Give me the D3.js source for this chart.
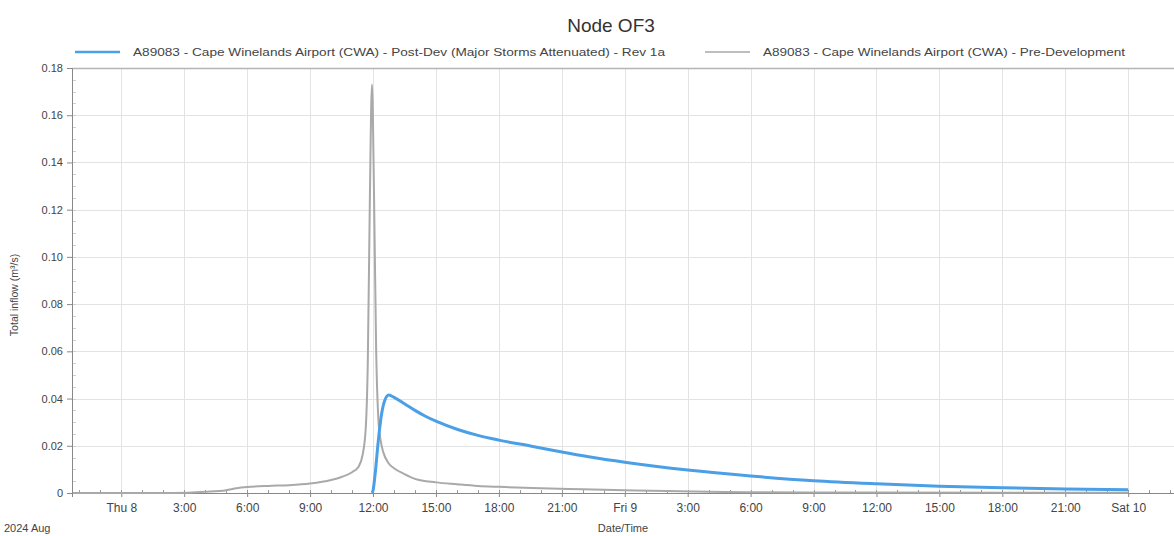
<!DOCTYPE html>
<html>
<head>
<meta charset="utf-8">
<script src="https://cdn.jsdelivr.net/npm/d3@7"></script>
<style>
  body { margin: 0; background: #fff; }
  text { font-family: "Liberation Sans", Arial, sans-serif; fill: #444; }
</style>
</head>
<body>
<div class="chart"></div>
<script>
// hours are counted from Thu 8 Aug 2024 00:00
var preHours = [-2.3, 2.5, 4, 5, 5.5, 6, 7, 8, 9, 10, 10.5, 11, 11.3, 11.5, 11.65, 11.75, 11.85, 11.95, 12.05, 12.15, 12.25, 12.35, 12.5, 12.75, 13, 13.5, 14, 15, 16, 17, 18, 20, 22, 24, 26, 28, 30, 36, 48];
var preValues = [0, 0, 0.0005, 0.0012, 0.002, 0.0025, 0.003, 0.0033, 0.004, 0.0055, 0.0068, 0.0088, 0.011, 0.016, 0.027, 0.055, 0.125, 0.173, 0.125, 0.06, 0.032, 0.023, 0.017, 0.0125, 0.0105, 0.008, 0.006, 0.0045, 0.0037, 0.003, 0.0026, 0.002, 0.0016, 0.0012, 0.0008, 0.0005, 0.0003, 0.0002, 0.0001];

var postHours = [11.95, 12.0, 12.1, 12.25, 12.4, 12.55, 12.75, 13, 13.5, 14, 14.5, 15, 16, 17, 18, 19.5, 21, 22.5, 24, 27, 30, 33, 36, 39, 42, 45, 48];
var postValues = [0, 0.001, 0.008, 0.022, 0.033, 0.039, 0.0415, 0.0405, 0.0378, 0.035, 0.0325, 0.0304, 0.027, 0.0244, 0.0224, 0.0199, 0.0174, 0.015, 0.013, 0.0097, 0.0072, 0.0052, 0.0039, 0.0029, 0.0022, 0.0017, 0.0014];

var yTicks = [0, 0.02, 0.04, 0.06, 0.08, 0.10, 0.12, 0.14, 0.16, 0.18];
var yTickLabels = ["0", "0.02", "0.04", "0.06", "0.08", "0.10", "0.12", "0.14", "0.16", "0.18"];

var seriesNames = [
  "A89083 - Cape Winelands Airport (CWA) - Post-Dev (Major Storms Attenuated) - Rev 1a",
  "A89083 - Cape Winelands Airport (CWA) - Pre-Development"
];
var seriesColors = ["#4b9fe6", "#a9a9a9"];

var dayNames = ["Sun", "Mon", "Tue", "Wed", "Thu", "Fri", "Sat"];

function makeChart(){
  var width = 1174,
      height = 536;

  var left = 72, right = 1174, top = 68, bottom = 493;

  var svg = d3.select(".chart").append("svg")
      .attr("width", width)
      .attr("height", height);

  var base = new Date(2024, 7, 8, 0, 0);
  function toDate(h){ return new Date(base.getTime() + h * 3600000); }

  var x = d3.scaleTime()
      .domain([new Date(2024, 7, 7, 21, 39), new Date(2024, 7, 10, 2, 11)])
      .range([left, right]);

  var y = d3.scaleLinear()
      .domain([0, 0.18])
      .range([bottom, top]);

  var majorTimes = d3.timeHour.every(3).range(toDate(0), toDate(48.1));
  var minorTimes = d3.timeHour.every(1).range(x.domain()[0], x.domain()[1]);

  // grid
  svg.append("g").selectAll("line")
      .data(majorTimes)
    .enter().append("line")
      .attr("x1", function(d){ return Math.round(x(d)) + 0.5; })
      .attr("x2", function(d){ return Math.round(x(d)) + 0.5; })
      .attr("y1", top)
      .attr("y2", bottom)
      .style("stroke", "#e3e3e3");

  svg.append("g").selectAll("line")
      .data(yTicks.slice(1))
    .enter().append("line")
      .attr("x1", left)
      .attr("x2", right)
      .attr("y1", function(d){ return Math.round(y(d)) + 0.5; })
      .attr("y2", function(d){ return Math.round(y(d)) + 0.5; })
      .style("stroke", function(d, i){ return i == yTicks.length - 2 ? "#b5b5b5" : "#e3e3e3"; })
      .style("stroke-width", function(d, i){ return i == yTicks.length - 2 ? 1.5 : 1; });

  // minor ticks
  svg.append("g").selectAll("line")
      .data(minorTimes)
    .enter().append("line")
      .attr("x1", function(d){ return Math.round(x(d)) + 0.5; })
      .attr("x2", function(d){ return Math.round(x(d)) + 0.5; })
      .attr("y1", bottom)
      .attr("y2", bottom - 3)
      .style("stroke", "#999");

  svg.append("g").selectAll("line")
      .data(d3.range(0, 0.18, 0.005))
    .enter().append("line")
      .attr("x1", left)
      .attr("x2", left + 4)
      .attr("y1", function(d){ return Math.round(y(d)) + 0.5; })
      .attr("y2", function(d){ return Math.round(y(d)) + 0.5; })
      .style("stroke", "#d0d0d0");

  // axes
  var xAxis = d3.axisBottom(x)
      .tickValues(majorTimes)
      .tickSize(4)
      .tickPadding(6)
      .tickFormat(function(d){
        if (d.getHours() === 0) return dayNames[d.getDay()] + " " + d.getDate();
        return d.getHours() + ":00";
      });

  var gx = svg.append("g")
      .attr("transform", "translate(0," + bottom + ")")
      .call(xAxis);
  gx.select(".domain").style("stroke", "#888");
  gx.selectAll(".tick line").style("stroke", "#888");
  gx.selectAll("text").style("font-size", "12px").style("fill", "#444");

  var yAxis = d3.axisLeft(y)
      .tickValues(yTicks)
      .tickSize(5)
      .tickPadding(4)
      .tickFormat(function(d, i){ return yTickLabels[i]; });

  var gy = svg.append("g")
      .attr("transform", "translate(" + left + ",0)")
      .call(yAxis);
  gy.select(".domain").style("stroke", "#888");
  gy.selectAll(".tick line").style("stroke", "#888");
  gy.selectAll("text").style("font-size", "11px").style("fill", "#444");

  // series
  var line = d3.line()
      .x(function(d){ return x(toDate(d[0])); })
      .y(function(d){ return y(d[1]); })
      .curve(d3.curveMonotoneX);

  var preData = preHours.map(function(h, i){ return [h, preValues[i]]; });
  var postData = postHours.map(function(h, i){ return [h, postValues[i]]; });

  svg.append("path")
      .datum(preData)
      .attr("d", line)
      .style("fill", "none")
      .style("stroke", seriesColors[1])
      .style("stroke-width", 2);

  svg.append("path")
      .datum(postData)
      .attr("d", line)
      .style("fill", "none")
      .style("stroke", seriesColors[0])
      .style("stroke-width", 3);

  // title + labels
  svg.append("text")
      .attr("x", 611)
      .attr("y", 32)
      .attr("text-anchor", "middle")
      .style("font-size", "19px")
      .style("fill", "#333")
      .text("Node OF3");

  svg.append("text")
      .attr("x", 623)
      .attr("y", 532)
      .attr("text-anchor", "middle")
      .style("font-size", "11px")
      .text("Date/Time");

  svg.append("text")
      .attr("x", 4)
      .attr("y", 532)
      .style("font-size", "11px")
      .text("2024 Aug");

  svg.append("text")
      .attr("transform", "translate(18,295) rotate(-90)")
      .attr("text-anchor", "middle")
      .style("font-size", "10.5px")
      .text("Total inflow (m³/s)");

  // legend
  var legendX = [[75, 120, 133, 532], [705, 750, 763, 362]];
  seriesNames.forEach(function(name, i){
    svg.append("line")
        .attr("x1", legendX[i][0])
        .attr("x2", legendX[i][1])
        .attr("y1", 52)
        .attr("y2", 52)
        .style("stroke", seriesColors[i])
        .style("stroke-width", i === 0 ? 2.5 : 1.5);
    svg.append("text")
        .attr("x", legendX[i][2])
        .attr("y", 56)
        .attr("textLength", legendX[i][3])
        .attr("lengthAdjust", "spacingAndGlyphs")
        .style("font-size", "11px")
        .text(name);
  });
}

makeChart();
</script>
</body>
</html>
